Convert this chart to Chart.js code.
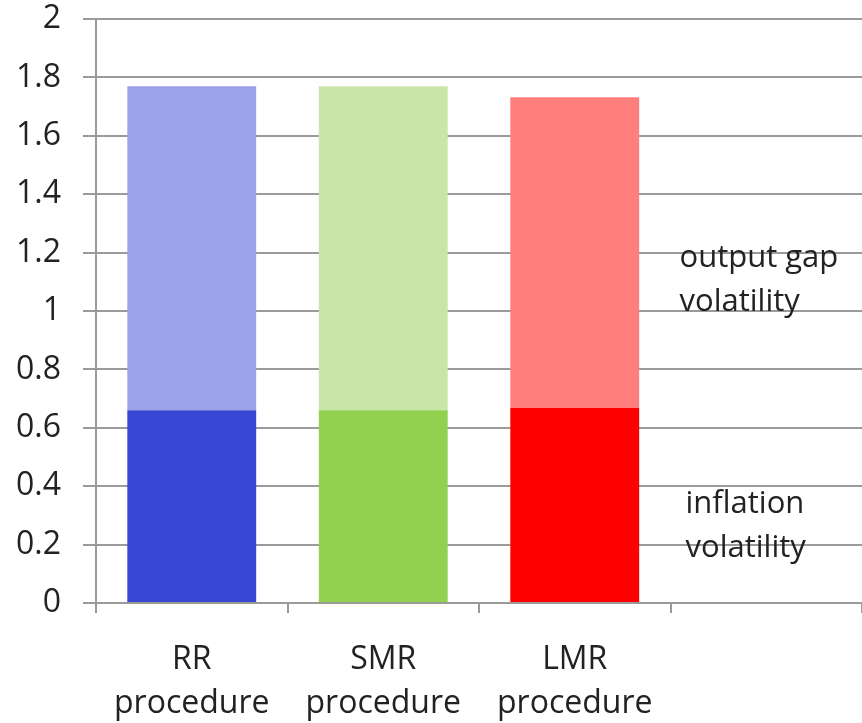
<!DOCTYPE html>
<html>
<head>
<meta charset="utf-8">
<script src="https://cdn.jsdelivr.net/npm/chart.js@4/dist/chart.umd.min.js"></script>
<style>
  html, body { margin: 0; padding: 0; background: #ffffff; }
  #wrap { width: 862px; height: 723px; }
</style>
</head>
<body>
<div id="wrap"><canvas id="c" width="862" height="723"></canvas></div>
<script>
// Procedures compared; the fourth slot is left empty to hold the side notes
const categories = [["RR", "procedure"], ["SMR", "procedure"], ["LMR", "procedure"], ""];
const inflationVolatility = [0.66, 0.66, 0.668, null];
const outputGapVolatility = [1.11, 1.11, 1.064, null];
const yTicks = [0, 0.2, 0.4, 0.6, 0.8, 1, 1.2, 1.4, 1.6, 1.8, 2];

const darkColors = ["#3847d3", "#92d050", "#ff0000", "#ffffff"];
const lightColors = ["#9ba2e8", "#c9e6a8", "#ff7f7f", "#ffffff"];
const FONT = "'Open Sans', 'Liberation Sans', sans-serif";

// Side notes naming each stacked component, written in the empty fourth slot
const sideNotes = {
  id: "sideNotes",
  afterDatasetsDraw(chart) {
    const { ctx, scales } = chart;
    const notes = [
      { lines: ["output gap", "volatility"], at: 1.18, dx: 0 },
      { lines: ["inflation", "volatility"], at: 0.34, dx: 6 }
    ];
    ctx.save();
    ctx.font = "31px " + FONT;
    ctx.fillStyle = "#222222";
    ctx.textAlign = "left";
    ctx.textBaseline = "middle";
    const x0 = scales.x.getPixelForValue(3) - scales.x.width / 8 + 9;
    notes.forEach(n => {
      const y0 = scales.y.getPixelForValue(n.at);
      n.lines.forEach((t, i) => ctx.fillText(t, x0 + n.dx, y0 + i * 44));
    });
    ctx.restore();
  }
};

new Chart(document.getElementById("c"), {
  type: "bar",
  data: {
    labels: categories,
    datasets: [
      {
        label: "inflation volatility",
        data: inflationVolatility,
        backgroundColor: darkColors,
        barPercentage: 0.673,
        categoryPercentage: 1
      },
      {
        label: "output gap volatility",
        data: outputGapVolatility,
        backgroundColor: lightColors,
        barPercentage: 0.673,
        categoryPercentage: 1
      }
    ]
  },
  options: {
    responsive: false,
    animation: false,
    events: [],
    layout: { padding: { top: 19, right: 0, bottom: 0, left: 0 } },
    plugins: {
      legend: { display: false },
      tooltip: { enabled: false }
    },
    scales: {
      x: {
        stacked: true,
        offset: true,
        afterFit(axis) { axis.height = 120; axis.paddingLeft = 0; axis.paddingRight = 0; },
        grid: {
          offset: true,
          drawOnChartArea: false,
          drawTicks: true,
          tickLength: 10,
          color: "#9a9a9a",
          lineWidth: 2
        },
        border: { display: true, color: "#9a9a9a", width: 2 },
        ticks: {
          color: "#222222",
          font: { family: FONT, size: 32, lineHeight: 1.4 },
          padding: 24,
          maxRotation: 0,
          autoSkip: false
        }
      },
      y: {
        stacked: true,
        min: 0,
        max: 2,
        afterBuildTicks(axis) { axis.ticks = yTicks.map(v => ({ value: v })); },
        afterFit(axis) { axis.width = 96; axis.paddingTop = 0; axis.paddingBottom = 0; },
        grid: {
          color: "#9a9a9a",
          lineWidth: 2,
          drawTicks: true,
          tickLength: 13
        },
        border: { display: true, color: "#9a9a9a", width: 2 },
        ticks: {
          color: "#222222",
          font: { family: FONT, size: 32 },
          padding: 22,
          callback: v => String(v)
        }
      }
    }
  },
  plugins: [sideNotes]
});
</script>
</body>
</html>
